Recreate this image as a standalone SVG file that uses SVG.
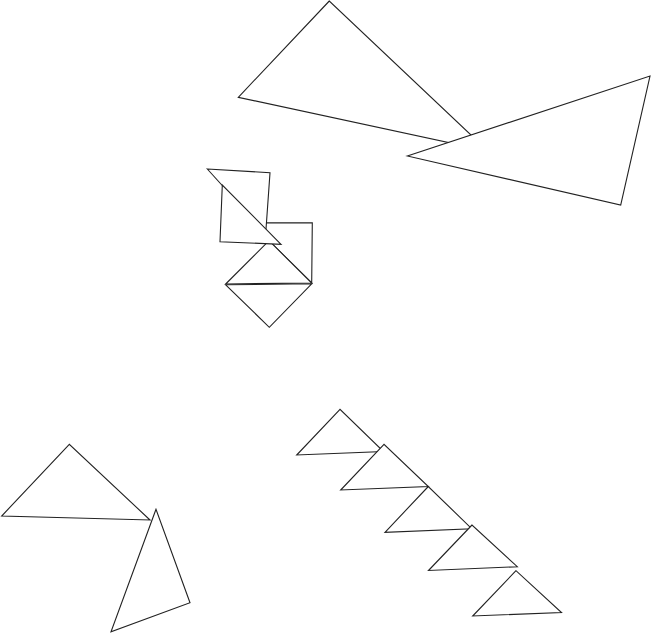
<svg xmlns="http://www.w3.org/2000/svg" width="651" height="633" viewBox="0 0 651 633">
<style>
polygon{fill:#fff;stroke:#222;stroke-width:1.1;stroke-linejoin:miter}
</style>
<rect width="651" height="633" fill="#fff"/>
<g id="top-triangles">
<polygon id="big-1" points="329.3,1 238.3,97.3 488,151"/>
<polygon id="big-2" points="407.3,156 650,76 620.7,205"/>
</g>
<g id="center-pieces">
<polygon id="piece-c" points="251,222.9 312.3,222.7 311.7,283"/>
<polygon id="diamond-top" points="225.7,284 269,240.7 311.7,283"/>
<polygon id="diamond-bottom" points="225.7,284.8 269.3,327.3 311.7,283.8"/>
<polygon id="piece-a" points="207.3,169 270,172.7 265.7,233.5"/>
<polygon id="piece-b" points="222.3,185 220,241.7 281,244.3"/>
</g>
<g id="bottom-left">
<polygon id="tri-d" points="69.3,444.3 1.7,516 150,520"/>
<polygon id="tri-e" points="156,509.3 111,631.7 190,602.7"/>
</g>
<g id="staircase">
<polygon id="step-1" points="340,409.3 296.7,455 383.5,451.5"/>
<polygon id="step-2" points="384,444.3 340.7,490 428.3,486.5"/>
<polygon id="step-3" points="428.3,486.5 385,532.3 471.7,528.7"/>
<polygon id="step-4" points="472,525 428.5,570.5 517.3,566.7"/>
<polygon id="step-5" points="516,570.7 472.7,616 561.5,612.5"/>
</g>
</svg>
